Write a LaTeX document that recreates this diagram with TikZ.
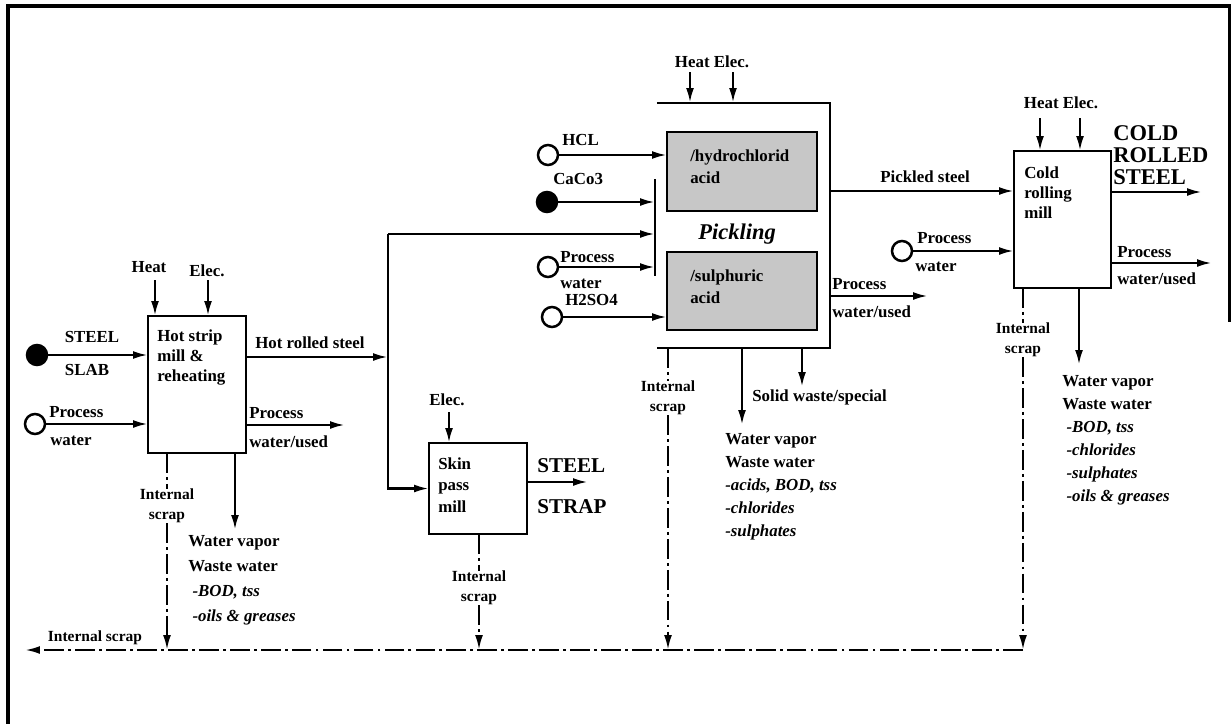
\documentclass[tikz,border=0pt]{standalone}
\usepackage{fontspec}
\setmainfont{Liberation Serif}
\usetikzlibrary{arrows.meta,positioning}

\tikzset{
  mill/.style={draw, line width=1.8pt, anchor=north west, inner sep=0pt, outer sep=0pt},
  acidbox/.style={mill, fill=black!22},
  milltext/.style={inner sep=0pt, align=left, font=\fontsize{12}{14.2}\selectfont\bfseries},
  feed/.style={circle, draw, line width=1.8pt, minimum size=0.5cm, inner sep=0pt, fill=white},
  feedfull/.style={feed, fill=black},
  flow/.style={line width=1.7pt, -{Latex[length=10.5pt,width=5.5pt]}},
  scrapline/.style={line width=1.6pt, dash pattern=on 14pt off 3pt on 2pt off 3pt},
  lbl/.style={inner sep=0pt, font=\fontsize{12}{14}\selectfont\bfseries},
  scraplbl/.style={inner sep=0pt, align=center, font=\fontsize{11}{14}\selectfont\bfseries},
  product/.style={inner sep=0pt, align=left, font=\fontsize{15}{15}\selectfont\bfseries},
  wastelist/.style={inner sep=0pt, anchor=north west, align=left, font=\fontsize{12}{16.4}\selectfont\bfseries},
}

\begin{document}
\begin{tikzpicture}[x=0.025cm, y=-0.025cm]
\useasboundingbox (0,0) rectangle (1231,724);
% frame
\draw[line width=2.5pt] (8,724) -- (8,6) -- (1230,6) -- (1230,322);

% units
\node[mill, minimum width=2.45cm, minimum height=3.425cm] (hsm) at (148,316) {};
\node[mill, minimum width=2.45cm, minimum height=2.275cm] (spm) at (429,443) {};
\node[inner sep=0pt, outer sep=0pt, minimum width=4.325cm, minimum height=6.125cm] (pk) at (743.5,225.5) {};
\node[acidbox, minimum width=3.75cm, minimum height=1.975cm] (hcl) at (667,132) {};
\node[acidbox, minimum width=3.75cm, minimum height=1.95cm] (sul) at (667,252) {};
\node[mill, minimum width=2.425cm, minimum height=3.425cm] (crm) at (1014,151) {};
\draw[line width=1.8pt] (pk.north west) -- (pk.north east) -- (pk.south east) -- (pk.south west);

\node[milltext, below right=0.35cm and 0.225cm of hsm.north west] (hsmT) {Hot strip\\mill \&\\reheating};
\node[milltext, font=\fontsize{12}{15.6}\selectfont\bfseries, below right=0.35cm and 0.225cm of spm.north west] (spmT) {Skin\\pass\\mill};
\node[milltext, font=\fontsize{12}{15.6}\selectfont\bfseries, below right=0.45cm and 0.575cm of hcl.north west] (hclT) {/hydrochlorid\\acid};
\node[milltext, font=\fontsize{12}{15.6}\selectfont\bfseries, below right=0.45cm and 0.575cm of sul.north west] (sulT) {/sulphuric\\acid};
\node[inner sep=0pt, font=\fontsize{16}{16}\selectfont\bfseries\itshape] (pkT) at (737,234) {Pickling};
\node[milltext, below right=0.4cm and 0.25cm of crm.north west] (crmT) {Cold\\rolling\\mill};

% feeds
\node[feedfull] (slab) at (37,355) {};
\node[feed] (pw1) at (35,424) {};
\node[feed] (hclS) at (548,155) {};
\node[feedfull] (caco) at (547,202) {};
\node[feed] (pw2) at (548,267) {};
\node[feed] (h2so) at (552,317) {};
\node[feed] (pw3) at (902,251) {};

% free ends
\coordinate (hsmH) at (155,280);
\coordinate (hsmE) at (208,280);
\coordinate (split) at (388,357);
\coordinate (brUp) at (388,234);
\coordinate (hsmPO) at (345,425);
\coordinate (hsmW) at (235,530);
\coordinate (spmE) at (449,412);
\coordinate (spmO) at (588,482);
\coordinate (barT) at (655,179);
\coordinate (barB) at (655,276);
\coordinate (pkH) at (690,72);
\coordinate (pkE) at (733,72);
\coordinate (pkO) at (830,191);
\coordinate (pkPO) at (928,296);
\coordinate (pkW) at (742,425);
\coordinate (pkS) at (802,387);
\coordinate (crmH) at (1040,118);
\coordinate (crmE) at (1080,118);
\coordinate (crmO) at (1202,192);
\coordinate (crmPO) at (1212,263);
\coordinate (crmW) at (1079,365);
\coordinate (scrapE) at (1023,650);
\coordinate (scrapW) at (25,650);

% hot strip mill
\draw[flow] (hsmH) -- (hsmH |- hsm.north);
\draw[flow] (hsmE) -- (hsmE |- hsm.north);
\draw[flow] (slab) -- (slab -| hsm.west);
\draw[flow] (pw1) -- (pw1 -| hsm.west);
\draw[flow] (hsm.east |- split) -- (split);
\draw[flow] (hsm.east |- hsmPO) -- (hsmPO);
\draw[flow] (hsm.south -| hsmW) -- (hsmW);
\draw[line width=1.7pt] (brUp) -- (split);
\draw[flow] (split) |- (spm.west);
\draw[flow] (brUp) -- (brUp -| barT);

% skin pass mill
\draw[flow] (spmE) -- (spmE |- spm.north);
\draw[flow] (spm.east |- spmO) -- (spmO);

% pickling
\draw[line width=1.7pt] (barT) -- (barB);
\draw[flow] (pkH) -- (pkH |- pk.north);
\draw[flow] (pkE) -- (pkE |- pk.north);
\draw[flow] (hclS) -- (hclS -| hcl.west);
\draw[flow] (caco) -- (caco -| barT);
\draw[flow] (pw2) -- (pw2 -| barT);
\draw[flow] (h2so) -- (h2so -| sul.west);
\draw[flow] (pkO) -- (pkO -| crm.west);
\draw[flow] (pk.east |- pkPO) -- (pkPO);
\draw[flow] (pk.south -| pkW) -- (pkW);
\draw[flow] (pk.south -| pkS) -- (pkS);

% cold rolling mill
\draw[flow] (crmH) -- (crmH |- crm.north);
\draw[flow] (crmE) -- (crmE |- crm.north);
\draw[flow] (pw3) -- (pw3 -| crm.west);
\draw[flow] (crm.east |- crmO) -- (crmO);
\draw[flow] (crm.east |- crmPO) -- (crmPO);
\draw[flow] (crm.south -| crmW) -- (crmW);

% internal scrap
\node[scraplbl] (hsmIS) at (167,506) {Internal\\scrap};
\node[scraplbl] (spmIS) at (479,588) {Internal\\scrap};
\node[scraplbl] (pkIS) at (668,398) {Internal\\scrap};
\node[scraplbl] (crmIS) at (1023,340) {Internal\\scrap};
\draw[scrapline] (hsm.south -| hsmIS) -- (hsmIS);
\draw[scrapline] (spm.south -| spmIS) -- (spmIS);
\draw[scrapline] (pk.south -| pkIS) -- (pkIS);
\draw[scrapline] (crm.south -| crmIS) -- (crmIS);
\draw[scrapline, -{Latex[length=10.5pt,width=5.5pt]}] (hsmIS) -- (hsmIS |- scrapE);
\draw[scrapline, -{Latex[length=10.5pt,width=5.5pt]}] (spmIS) -- (spmIS |- scrapE);
\draw[scrapline, -{Latex[length=10.5pt,width=5.5pt]}] (pkIS) -- (pkIS |- scrapE);
\draw[scrapline, -{Latex[length=10.5pt,width=5.5pt]}] (crmIS) -- (scrapE);
\draw[scrapline, -{Latex[length=10.5pt,width=5.5pt]}] (scrapE) -- (scrapW);
\node[lbl, font=\fontsize{11}{14}\selectfont\bfseries] (scrapT) at (95,638) {Internal scrap};

% labels
\node[lbl] (hsmHT) at (149,267) {Heat};
\node[lbl] (hsmET) at (207,271) {Elec.};
\node[lbl] (slabT) at (92,337) {STEEL};
\node[lbl] (slabB) at (87,370) {SLAB};
\node[lbl, anchor=west] (pw1T) at (49,412) {Process};
\node[lbl, anchor=west] (pw1B) at (50,441) {water};
\node[lbl, anchor=west] (hotT) at (255,343) {Hot rolled steel};
\node[lbl, anchor=west] (hsmPOT) at (249,413) {Process};
\node[lbl, anchor=west] (hsmPOB) at (249,442) {water/used};
\node[wastelist, font=\fontsize{12}{17.8}\selectfont\bfseries] (hsmWT) at (188,535)
  {Water vapor\\Waste water\\\hspace*{3pt}\textit{-BOD, tss}\\\hspace*{3pt}\textit{-oils \& greases}};

\node[lbl] (spmET) at (447,400) {Elec.};
\node[product, anchor=west] (stripT) at (537,466) {STEEL};
\node[product, anchor=west] (stripB) at (537,507) {STRAP};

\node[lbl] (pkHE) at (712,62) {Heat Elec.};
\node[lbl, anchor=west] (hclL) at (562,140) {HCL};
\node[lbl, anchor=west] (cacoL) at (553,179) {CaCo3};
\node[lbl, anchor=west] (pw2T) at (560,257) {Process};
\node[lbl, anchor=west] (pw2B) at (560,284) {water};
\node[lbl, anchor=west] (h2soL) at (565,300) {H2SO4};
\node[lbl, anchor=west] (pickT) at (880,177) {Pickled steel};
\node[lbl, anchor=west] (pkPOT) at (832,284) {Process};
\node[lbl, anchor=west] (pkPOB) at (832,312) {water/used};
\node[lbl, anchor=west] (pkST) at (752,397) {Solid waste/special};
\node[wastelist] (pkWT) at (725,433)
  {Water vapor\\Waste water\\\textit{-acids, BOD, tss}\\\textit{-chlorides}\\\textit{-sulphates}};

\node[lbl] (crmHE) at (1061,103) {Heat Elec.};
\node[product, font=\fontsize{16}{15.6}\selectfont\bfseries, anchor=north west] (coldT) at (1113,125) {COLD\\ROLLED\\STEEL};
\node[lbl, anchor=west] (pw3T) at (917,238) {Process};
\node[lbl, anchor=west] (pw3B) at (915,267) {water};
\node[lbl, anchor=west] (crmPOT) at (1117,252) {Process};
\node[lbl, anchor=west] (crmPOB) at (1117,279) {water/used};
\node[wastelist] (crmWT) at (1062,375)
  {Water vapor\\Waste water\\\hspace*{3pt}\textit{-BOD, tss}\\\hspace*{3pt}\textit{-chlorides}\\\hspace*{3pt}\textit{-sulphates}\\\hspace*{3pt}\textit{-oils \& greases}};
\end{tikzpicture}
\end{document}
